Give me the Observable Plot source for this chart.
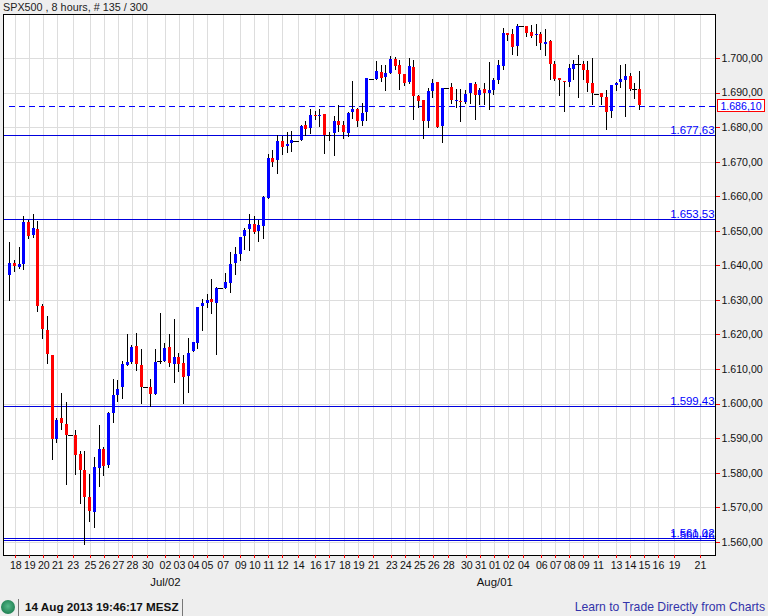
<!DOCTYPE html>
<html><head><meta charset="utf-8">
<script src="https://cdn.jsdelivr.net/npm/d3@7"></script>
<script src="https://cdn.jsdelivr.net/npm/@observablehq/plot@0.6"></script>
<style>
html,body{margin:0;padding:0;background:#eeeeee;font-family:"Liberation Sans",Arial,sans-serif;overflow:hidden}
#page{position:relative;width:768px;height:616px}
#head{height:13px;line-height:15px;font-size:10.8px;color:#222;padding-left:3px;white-space:nowrap}
#chart svg{display:block}
#foot{position:relative;height:26px;font-size:12.2px}
#lamp{position:absolute;left:1px;top:10px;width:14px;height:14px;border-radius:50%;background:radial-gradient(circle at 50% 45%,#55b98a,#1f7f52 75%)}
.sep{position:absolute;top:9px;width:1px;height:17px;background:#777}
#stamp{position:absolute;left:25px;top:10px;font-size:11.7px;font-weight:bold;color:#111;white-space:nowrap}
#link{position:absolute;right:3px;top:10px;color:#3333aa;white-space:nowrap}
</style></head>
<body><div id="page">
<div id="head"></div>
<div id="chart"></div>
<div id="foot"><div id="lamp"></div><div class="sep" style="left:18px"></div><div id="stamp"></div><div class="sep" style="left:182px"></div><div id="link"></div></div>
</div>
<script>
const titleText = "SPX500 , 8 hours, # 135 / 300";
const stampText = "14 Aug 2013 19:46:17 MESZ";
const linkText = "Learn to Trade Directly from Charts";

const opens = [1637.2,1640.7,1639.5,1640.4,1652.5,1648.8,1650.5,1628.3,1621.3,1614.1,
1589.8,1595.9,1594.1,1590.9,1590.9,1585.4,1580.8,1573.0,1568.7,1581.4,
1586.9,1582.3,1597.3,1602.5,1604.8,1611.2,1612.1,1616.7,1611.2,1604.7,
1604.8,1602.8,1612.2,1612.3,1616.4,1611.5,1613.5,1611.8,1608.0,1615.2,
1617.6,1628.3,1629.1,1630.3,1629.1,1633.4,1633.5,1634.9,1640.7,1643.3,
1648.5,1650.5,1652.0,1649.8,1651.3,1659.6,1671.0,1670.4,1675.9,1674.4,
1675.3,1676.1,1676.2,1680.5,1679.6,1683.4,1683.2,1683.7,1677.8,1678.2,
1681.7,1680.5,1678.2,1684.3,1685.1,1681.7,1684.3,1694.0,1694.0,1695.9,
1694.4,1695.6,1699.6,1697.9,1695.3,1693.0,1697.3,1688.9,1687.8,1681.7,
1690.4,1693.0,1680.2,1691.4,1691.5,1687.6,1687.5,1687.2,1689.8,1692.4,
1689.2,1690.9,1689.8,1690.6,1693.5,1697.6,1707.2,1706.9,1703.4,1709.2,
1709.2,1707.4,1706.6,1706.9,1704.0,1704.8,1698.2,1694.1,1693.3,1693.0,
1696.7,1698.2,1698.2,1696.4,1692.7,1689.7,1689.8,1688.6,1684.6,1692.1,
1693.0,1693.5,1694.7,1691.1,1690.9];
const closes = [1640.7,1639.9,1640.3,1652.5,1648.6,1650.8,1628.3,1621.6,1614.4,1589.8,
1595.3,1594.4,1590.9,1590.9,1585.1,1580.8,1573.0,1569.0,1581.7,1586.9,
1582.0,1597.3,1602.5,1604.2,1611.5,1612.1,1616.4,1611.5,1604.8,1604.7,
1602.8,1612.1,1612.2,1616.1,1611.8,1613.5,1611.5,1607.7,1614.7,1617.8,
1628.0,1629.1,1630.0,1629.4,1633.5,1633.4,1635.2,1640.4,1643.3,1648.2,
1650.2,1652.0,1649.6,1651.6,1659.7,1671.2,1670.0,1675.9,1674.2,1675.0,
1676.2,1676.1,1680.2,1679.5,1683.4,1683.2,1683.4,1677.8,1677.8,1681.7,
1680.5,1678.5,1684.0,1685.1,1681.7,1684.0,1694.1,1694.0,1696.2,1694.1,
1695.6,1699.6,1697.6,1695.3,1692.7,1697.6,1688.9,1687.5,1681.7,1690.4,
1692.7,1679.9,1691.4,1691.4,1687.8,1687.8,1687.2,1689.5,1692.7,1689.2,
1690.6,1690.0,1690.6,1693.5,1697.9,1707.2,1706.6,1703.1,1709.2,1709.2,
1707.2,1706.3,1706.9,1704.3,1704.5,1698.2,1693.8,1693.5,1693.0,1697.0,
1698.2,1698.2,1696.4,1692.7,1689.8,1689.7,1688.6,1684.3,1692.1,1692.7,
1693.8,1694.7,1690.9,1691.1,1686.3];
const highs = [1646.8,1641.6,1645.3,1654.3,1653.1,1654.9,1652.8,1628.8,1625.4,1614.1,
1595.9,1603.1,1600.5,1590.9,1592.4,1586.3,1586.3,1579.7,1584.6,1593.8,
1587.5,1597.6,1607.1,1606.9,1612.3,1620.2,1617.0,1620.4,1615.8,1604.7,
1607.1,1615.8,1626.2,1617.6,1620.2,1624.5,1614.7,1614.1,1619.0,1617.8,
1628.0,1630.3,1631.7,1636.1,1633.8,1633.4,1637.8,1643.9,1645.3,1648.2,
1650.8,1654.9,1654.3,1653.0,1660.2,1672.1,1673.3,1677.8,1677.3,1678.5,
1678.8,1676.1,1680.5,1681.7,1685.1,1684.6,1685.1,1683.7,1678.5,1683.1,
1686.3,1681.7,1684.3,1693.3,1685.4,1687.1,1694.1,1694.0,1699.1,1697.9,
1697.9,1700.5,1700.2,1699.3,1695.3,1699.9,1699.3,1689.2,1687.8,1691.2,
1693.8,1693.0,1691.4,1691.4,1692.7,1690.9,1690.9,1690.6,1692.7,1693.0,
1691.2,1692.7,1698.8,1694.1,1699.3,1708.6,1707.2,1708.3,1709.8,1709.2,
1709.2,1709.5,1709.8,1707.4,1708.3,1705.1,1699.0,1694.1,1693.3,1698.2,
1699.3,1700.8,1699.0,1699.0,1699.9,1689.7,1689.8,1690.6,1692.1,1693.0,
1697.9,1698.2,1695.6,1692.7,1696.2];
const lows = [1629.8,1638.1,1638.9,1638.7,1647.6,1648.0,1626.6,1618.7,1611.5,1583.7,
1588.6,1592.4,1576.5,1590.9,1579.4,1571.0,1559.1,1565.8,1564.0,1575.9,
1579.1,1581.4,1594.4,1600.5,1601.4,1610.9,1611.5,1609.5,1599.9,1604.7,
1599.0,1602.5,1611.5,1612.1,1610.6,1606.0,1609.2,1599.9,1603.1,1614.9,
1615.8,1621.0,1627.7,1625.9,1614.1,1633.4,1633.2,1632.0,1637.2,1641.3,
1644.5,1644.2,1649.1,1646.9,1647.5,1659.3,1668.4,1666.3,1671.8,1672.4,
1672.7,1676.1,1675.9,1677.3,1677.9,1682.0,1679.9,1672.1,1675.9,1671.5,
1678.5,1676.5,1677.0,1682.3,1680.0,1680.2,1681.7,1694.0,1693.5,1693.0,
1690.4,1695.3,1696.4,1690.7,1691.8,1692.4,1682.0,1685.4,1676.5,1679.6,
1688.3,1679.6,1675.3,1691.4,1686.6,1685.4,1681.4,1686.6,1686.6,1682.0,
1686.3,1686.3,1684.9,1689.2,1692.4,1696.4,1704.8,1700.8,1700.5,1709.2,
1706.0,1705.7,1703.4,1702.2,1700.5,1693.5,1693.3,1688.9,1684.3,1691.5,
1693.5,1688.3,1693.5,1690.1,1686.3,1689.7,1686.3,1679.1,1682.5,1690.4,
1691.2,1682.8,1690.4,1688.0,1684.9];

const tickBars = [1.28,4.26,7.23,10.21,13.49,17.17,20.15,23.13,26.11,29.36,33.13,36.11,39.09,42.06,45.4,49.15,52.13,55.11,58.09,61.49,65.11,68.09,71.28,74.26,77.45,81.28,84.26,87.23,90.21,93.4,97.23,100.21,103.19,106.17,109.36,113.19,116.17,119.15,122.13,125.26,129.09,132.06,135.04,138.02,141.43,146.96];
const tickLabels = ["18","19","20","21","23","25","26","27","28","30","02","03","04","05","07","09","10","11","12","14","16","17","18","19","21","23","24","25","26","28","30","31","01","02","04","06","07","08","09","11","13","14","15","16","19","21"];
const monthBars = [33.13,103.19];
const monthLabels = ["Jul/02","Aug/01"];
const priceTicks = [1560,1570,1580,1590,1600,1610,1620,1630,1640,1650,1660,1670,1680,1690,1700];
const levels = [1677.63,1653.53,1599.43,1561.02,1560.46];
const lastPrice = 1686.10;

document.getElementById("head").textContent = titleText;
document.getElementById("stamp").textContent = stampText;
document.getElementById("link").textContent = linkText;

const fmt = d3.formatLocale({decimal:",",thousands:".",grouping:[3],currency:["",""]}).format(",.2f");
const candles = opens.map((o,i)=>({i,o,c:closes[i],h:highs[i],l:lows[i],top:Math.max(o,closes[i]),bot:Math.min(o,closes[i])}));
const bodies = candles.filter(d=>d.o!==d.c);
const dojis = candles.filter(d=>d.o===d.c);
const tickText = new Map(tickBars.map((b,k)=>[b,tickLabels[k]]));
const xMin = -1.34, xMax = 150.15;

function lastBox(index, scales, values, dims){
  const g = d3.create("svg:g");
  const y = Math.round(scales.y(lastPrice));
  const x0 = dims.width - dims.marginRight;
  g.append("rect").attr("x",x0+2.5).attr("y",y-6.5).attr("width",47).attr("height",12)
   .attr("fill","white").attr("stroke","#ff0000").attr("shape-rendering","crispEdges");
  g.append("text").attr("x",x0+26).attr("y",y).attr("dy","0.35em").attr("text-anchor","middle")
   .attr("fill","#0000ff").attr("font-size",10.6).text(fmt(lastPrice));
  return g.node();
}

const plot = Plot.plot({
  width:768,height:577,marginTop:1,marginBottom:35,marginLeft:3,marginRight:53,
  style:{background:"transparent",fontFamily:'"Liberation Sans",Arial,sans-serif',fontSize:"10.6px",color:"#111",shapeRendering:"crispEdges"},
  x:{domain:[xMin,xMax]},
  y:{domain:[1556.19,1712.73]},
  marks:[
    Plot.frame({fill:"white",stroke:null}),
    Plot.gridX(tickBars,{stroke:"#dddddd",strokeOpacity:1}),
    Plot.gridY(priceTicks,{stroke:"#dddddd",strokeOpacity:1}),
    Plot.ruleY(levels,{x1:xMin,x2:xMax,stroke:"#0000dd",strokeWidth:1}),
    Plot.ruleY([lastPrice],{x1:0,x2:xMax,stroke:"#0000ff",strokeWidth:1,strokeDasharray:"6,4"}),
    Plot.ruleX(candles,{x:"i",y1:"l",y2:"h",stroke:"black",strokeWidth:1}),
    Plot.ruleY(dojis,{y:"c",x1:d=>d.i-0.55,x2:d=>d.i+0.55,stroke:"black",strokeWidth:1}),
    Plot.ruleX(bodies,{x:"i",y1:"bot",y2:"top",stroke:d=>d.c>d.o?"#0000ff":"#ff0000",strokeWidth:3}),
    Plot.text(levels,{x:xMax,y:d=>d,text:d=>fmt(d),textAnchor:"end",dx:-1,dy:-5,fill:"#0000ff",fontSize:11.4,stroke:"none"}),
    Plot.frame({stroke:"black"}),
    Plot.axisX(tickBars,{tickSize:3,stroke:"#ff0000",fill:"#111",tickPadding:3,tickFormat:d=>tickText.get(d),label:null,fontSize:10.6}),
    Plot.axisY(priceTicks,{anchor:"right",tickSize:4,stroke:"#ff0000",fill:"#111",tickPadding:2,tickFormat:fmt,label:null,fontSize:10.6}),
    Plot.text(monthBars,{x:d=>d,text:(d,k)=>monthLabels[k],frameAnchor:"bottom",dy:30,fill:"#111",fontSize:11.4}),
    lastBox
  ]
});
document.getElementById("chart").appendChild(plot);
</script>
</body></html>
